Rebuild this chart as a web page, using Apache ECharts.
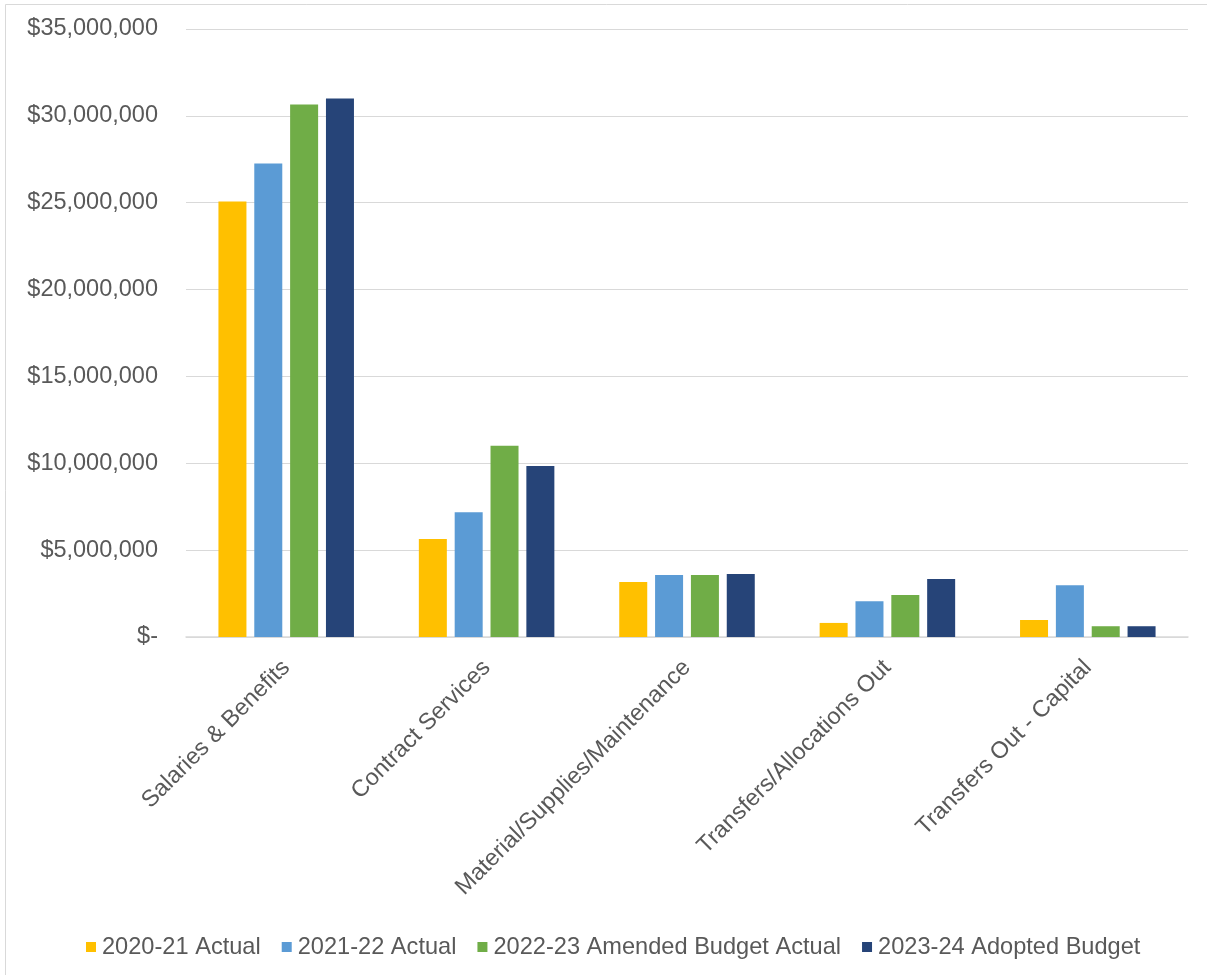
<!DOCTYPE html>
<html>
<head>
<meta charset="utf-8">
<script src="https://cdn.jsdelivr.net/npm/echarts@6/dist/echarts.min.js"></script>
<style>
  html, body { margin: 0; padding: 0; background: #ffffff; }
  #chart { width: 1207px; height: 975px; }
</style>
</head>
<body>
<div id="chart"></div>
<script>
// Expense categories and yearly amounts (dollars)
const categories = [
  'Salaries & Benefits',
  'Contract Services',
  'Material/Supplies/Maintenance',
  'Transfers/Allocations Out',
  'Transfers Out - Capital'
];
const seriesNames = [
  '2020-21 Actual',
  '2021-22 Actual',
  '2022-23 Amended Budget Actual',
  '2023-24 Adopted Budget'
];
const actual2021 = [25070000, 5640000, 3170000, 810000, 980000];
const actual2022 = [27260000, 7180000, 3570000, 2060000, 2980000];
const amended2023 = [30650000, 11010000, 3570000, 2420000, 620000];
const adopted2024 = [31000000, 9840000, 3630000, 3340000, 620000];
const seriesValues = [actual2021, actual2022, amended2023, adopted2024];
const seriesColors = ['#FFC000', '#5B9BD5', '#70AD47', '#264478'];

const textColor = '#595959';
const fontFamily = 'Liberation Sans, Arial, sans-serif';

function money(v) {
  if (v === 0) return '$-';
  return '$' + v.toLocaleString('en-US');
}

const chart = echarts.init(document.getElementById('chart'), null, { renderer: 'canvas' });

chart.setOption({
  animation: false,
  backgroundColor: '#ffffff',
  textStyle: { fontFamily: fontFamily },
  graphic: [{
    type: 'rect',
    shape: { x: 5.5, y: 4.5, width: 1220, height: 990 },
    style: { fill: 'none', stroke: '#d9d9d9', lineWidth: 1 },
    silent: true
  }],
  grid: { left: 186, right: 19, top: 29, bottom: 338, containLabel: false },
  legend: {
    left: 81,
    top: 930,
    icon: 'rect',
    itemWidth: 10,
    itemHeight: 10,
    itemGap: 21,
    textStyle: { fontSize: 23.6, color: textColor, fontFamily: fontFamily, padding: [0, 0, 0, 1] },
    data: seriesNames
  },
  xAxis: {
    type: 'category',
    data: categories,
    axisLine: { lineStyle: { color: '#d9d9d9', width: 1.5 } },
    axisTick: { show: false },
    axisLabel: {
      rotate: 45,
      interval: 0,
      margin: 27,
      fontSize: 23.5,
      color: textColor,
      fontFamily: fontFamily
    }
  },
  yAxis: {
    type: 'value',
    min: 0,
    max: 35000000,
    interval: 5000000,
    axisLine: { show: false },
    axisTick: { show: false },
    splitLine: { lineStyle: { color: '#d9d9d9', width: 1 } },
    axisLabel: {
      margin: 28,
      fontSize: 23.5,
      color: textColor,
      fontFamily: fontFamily,
      formatter: money
    }
  },
  series: seriesNames.map((name, i) => ({
    name: name,
    type: 'bar',
    data: seriesValues[i],
    barWidth: 28,
    barGap: '28%',
    barCategoryGap: '32%',
    itemStyle: { color: seriesColors[i] }
  }))
});
</script>
</body>
</html>
